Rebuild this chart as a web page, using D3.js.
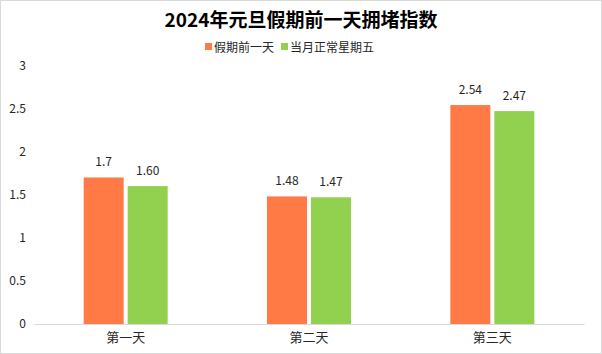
<!DOCTYPE html>
<html>
<head>
<meta charset="utf-8">
<script src="https://cdn.jsdelivr.net/npm/d3@7"></script>
<style>
  body { margin: 0; background: #fff; }
  svg { display: block; font-family: "Noto Sans CJK SC", "DejaVu Sans", sans-serif; }
</style>
</head>
<body>
<svg id="chart"></svg>
<script>
// chart data
let categories = ['第一天', '第二天', '第三天']
let seriesNames = ['假期前一天', '当月正常星期五']
let holidayEve = [1.7, 1.48, 2.54]
let normalFriday = [1.60, 1.47, 2.47]
let holidayLabels = ['1.7', '1.48', '2.54']
let fridayLabels = ['1.60', '1.47', '2.47']
let yTicks = [0, 0.5, 1, 1.5, 2, 2.5, 3]

let colors = ['#ff7a45', '#92d050']

// dimensions
let width = 602
let height = 354
let plotLeft = 34
let plotRight = 584
let plotTop = 65.4
let plotBottom = 324

let svg = d3.select('#chart')
            .attr('width', width)
            .attr('height', height)

// frame
svg.append('rect')
   .attr('x', 0.5).attr('y', 0.5)
   .attr('width', width - 1).attr('height', height - 1)
   .attr('fill', '#fff')
   .attr('stroke', '#d9d9d9')

let xScale = d3.scaleBand()
               .domain(categories)
               .range([plotLeft, plotRight])

let yScale = d3.scaleLinear()
               .domain([0, 3])
               .range([plotBottom, plotTop])

let barW = 40
let gap = 4

let rows = categories.map((c, i) => ({
  cat: c,
  vals: [holidayEve[i], normalFriday[i]],
  labels: [holidayLabels[i], fridayLabels[i]]
}))

// bars
let groups = svg.selectAll('.group')
                .data(rows)
                .enter()
                .append('g')
                .attr('class', 'group')
                .attr('transform', d => `translate(${xScale(d.cat) + xScale.bandwidth() / 2},0)`)

groups.each(function (d) {
  let g = d3.select(this)
  d.vals.forEach((v, s) => {
    let x = s === 0 ? -barW - gap / 2 : gap / 2
    g.append('rect')
     .attr('x', x)
     .attr('y', yScale(v))
     .attr('width', barW)
     .attr('height', yScale(0) - yScale(v))
     .attr('fill', colors[s])
    g.append('text')
     .attr('x', x + barW / 2)
     .attr('y', yScale(v) - 11)
     .attr('text-anchor', 'middle')
     .style('font-size', '12px')
     .style('fill', '#262626')
     .text(d.labels[s])
  })
})

// y axis (labels only)
let yAxis = d3.axisLeft(yScale)
              .tickValues(yTicks)
              .tickFormat(d3.format('~g'))
              .tickSize(0)
              .tickPadding(0)

let yg = svg.append('g')
            .attr('transform', 'translate(26,0)')
            .call(yAxis)
yg.select('.domain').remove()
yg.selectAll('text')
  .style('font-size', '12px')
  .style('font-family', '"Noto Sans CJK SC", sans-serif')
  .style('fill', '#262626')

// x axis
let xAxis = d3.axisBottom(xScale).tickSize(0).tickPadding(9)
let xg = svg.append('g')
            .attr('transform', `translate(0,${plotBottom})`)
            .call(xAxis)
xg.select('.domain').attr('stroke', '#d9d9d9').attr('stroke-width', 1)
xg.selectAll('text')
  .style('font-size', '13px')
  .style('font-family', '"Noto Sans CJK SC", sans-serif')
  .style('fill', '#262626')

// title
svg.append('text')
   .attr('x', width / 2)
   .attr('y', 27)
   .attr('text-anchor', 'middle')
   .style('font-size', '19px')
   .style('font-weight', 'bold')
   .style('fill', '#000')
   .text('2024年元旦假期前一天拥堵指数')

// legend
let legendX = [205, 281]
seriesNames.forEach((name, i) => {
  svg.append('rect')
     .attr('x', legendX[i])
     .attr('y', 43)
     .attr('width', 7)
     .attr('height', 7)
     .attr('fill', colors[i])
  svg.append('text')
     .attr('x', legendX[i] + 9)
     .attr('y', 51.5)
     .style('font-size', '12px')
     .style('fill', '#262626')
     .text(name)
})
</script>
</body>
</html>
